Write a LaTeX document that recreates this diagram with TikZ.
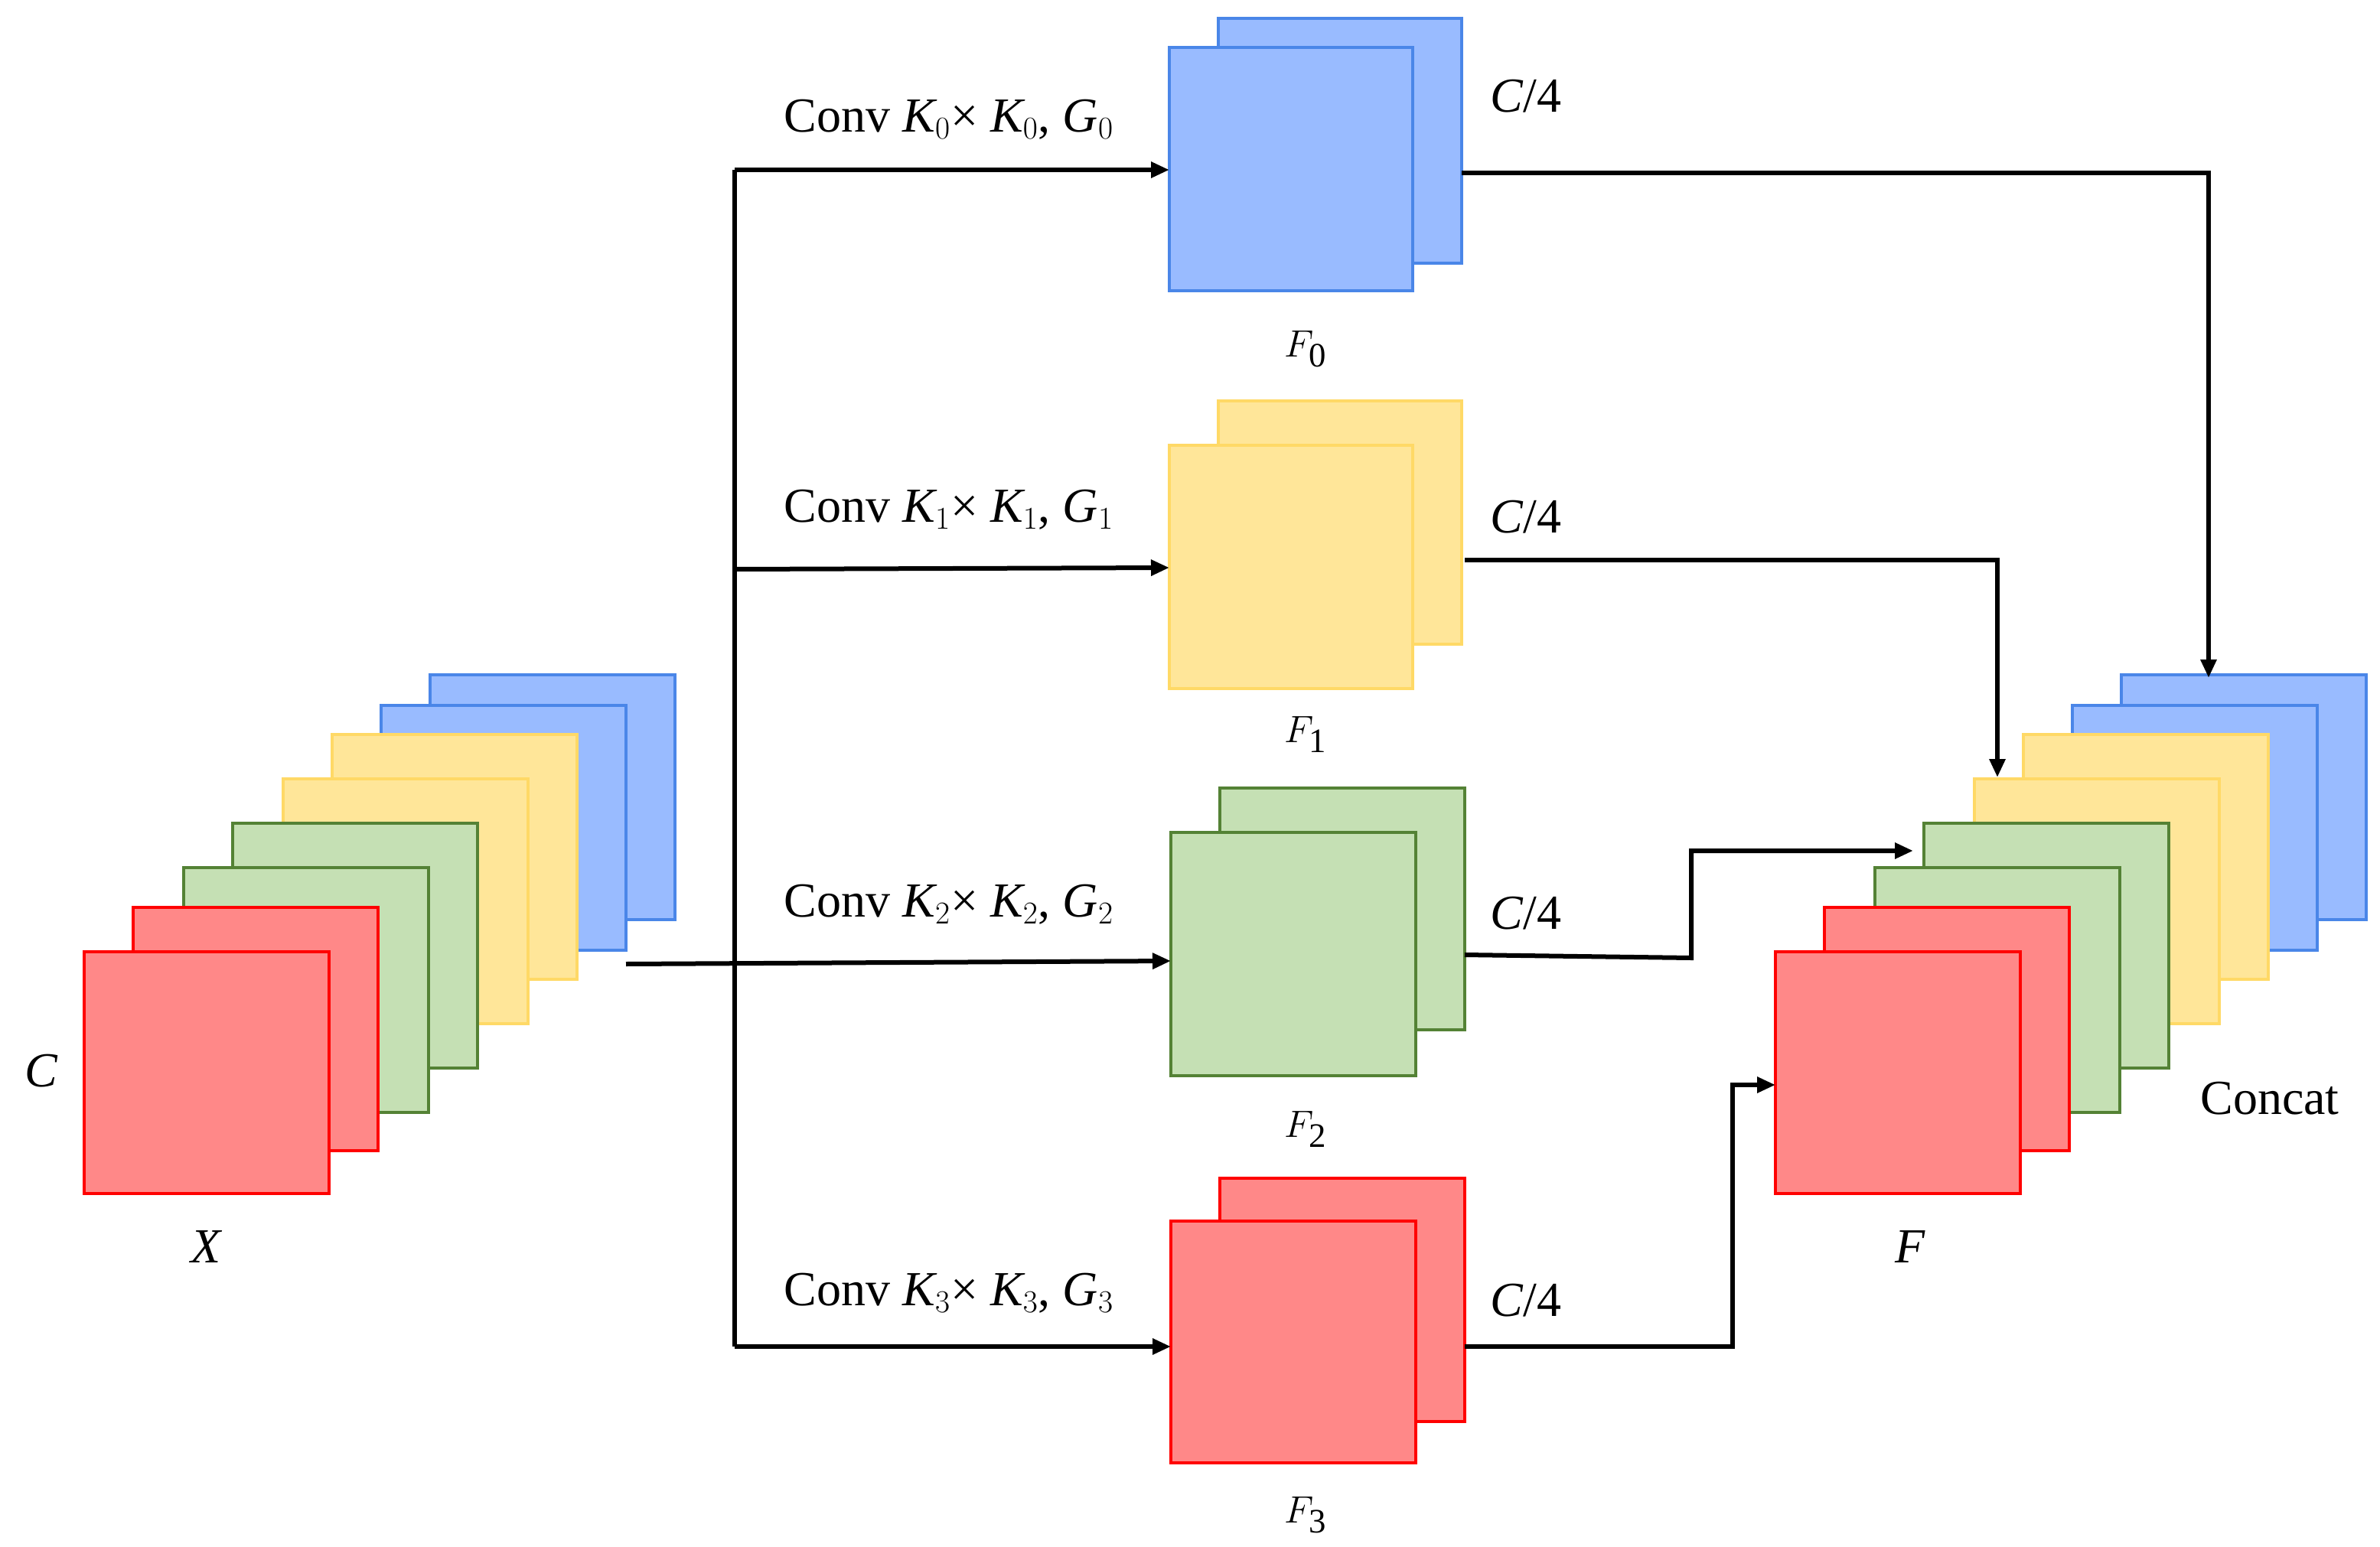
\documentclass[tikz,border=0pt]{standalone}
\usepackage{fontspec}
\setmainfont{Liberation Serif}
\usetikzlibrary{arrows.meta}
\definecolor{bF}{HTML}{99BBFF}\definecolor{bD}{HTML}{4A86E8}
\definecolor{yF}{HTML}{FFE699}\definecolor{yD}{HTML}{FFD966}
\definecolor{gF}{HTML}{C5E0B4}\definecolor{gD}{HTML}{548235}
\definecolor{rF}{HTML}{FF8888}\definecolor{rD}{HTML}{FF0000}
\begin{document}
\begin{tikzpicture}[x=1pt,y=-1pt,
 sq/.style n args={2}{fill=#1,draw=#2,line width=2pt},
 ar/.style={line width=3pt,-{Triangle[length=12pt,width=10pt]}},
 ln/.style={line width=3pt},
 lab/.style={font=\fontsize{32}{38}\selectfont,inner sep=0pt}]
\useasboundingbox (0,0) rectangle (1555,1011);
% X stack
\def\stack#1#2{%
\draw[sq={bF}{bD}] (#1+226,#2-181) rectangle ++(160,160);
\draw[sq={bF}{bD}] (#1+194,#2-161) rectangle ++(160,160);
\draw[sq={yF}{yD}] (#1+162,#2-113) rectangle ++(160,160);
\draw[sq={yF}{yD}] (#1+130,#2-142+29) ++(0,0);
\draw[sq={yF}{yD}] (#1+130,#2-142+29) rectangle ++(0,0);
}
\foreach \ox in {0,1105}{
\draw[sq={bF}{bD}] (\ox+281,441) rectangle ++(160,160);
\draw[sq={bF}{bD}] (\ox+249,461) rectangle ++(160,160);
\draw[sq={yF}{yD}] (\ox+217,480) rectangle ++(160,160);
\draw[sq={yF}{yD}] (\ox+185,509) rectangle ++(160,160);
\draw[sq={gF}{gD}] (\ox+152,538) rectangle ++(160,160);
\draw[sq={gF}{gD}] (\ox+120,567) rectangle ++(160,160);
\draw[sq={rF}{rD}] (\ox+87,593) rectangle ++(160,159);
\draw[sq={rF}{rD}] (\ox+55,622) rectangle ++(160,158);
}
\node[lab] (c) at (27,700) {\textit{C}};
\node[lab] (x) at (135,815) {\textit{X}};
\node[lab] (f) at (1248,815) {\textit{F}};
\node[lab] (cc) at (1483,718) {Concat};
% F blocks
\draw[sq={bF}{bD}] (796,12) rectangle (955,172);
\draw[sq={bF}{bD}] (764,31) rectangle (923,190);
\draw[sq={yF}{yD}] (796,262) rectangle (955,421);
\draw[sq={yF}{yD}] (764,291) rectangle (923,450);
\draw[sq={gF}{gD}] (797,515) rectangle (957,673);
\draw[sq={gF}{gD}] (765,544) rectangle (925,703);
\draw[sq={rF}{rD}] (797,770) rectangle (957,929);
\draw[sq={rF}{rD}] (765,798) rectangle (925,956);
\foreach \i/\y in {0/228,1/480,2/738,3/990}{\node[lab] (f\i) at (853,\y) {$F_{\mathrm{\i}}$};}
\foreach \i/\y in {0/63,1/338,2/597,3/850}{\node[lab] (q\i) at (997,\y) {\textit{C}/4};}
\foreach \i/\y in {0/78,1/333,2/591,3/845}{\node[lab] (k\i) at (620,\y) {Conv \textit{K$_{\i}$}× \textit{K$_{\i}$}, \textit{G$_{\i}$}};}
% connectors
\coordinate (t0) at (480,111); \coordinate (t3) at (480,880);
\draw[ln] (t0) -- (t3);
\draw[ar] (t0) -- (764,111);
\draw[ar] (480,372) -- (764,371);
\draw[ar] (409,630) -- (765,628);
\draw[ar] (t3) -- (765,880);
\draw[ar] (955,113) -- (1443,113) -- (1443,443);
\draw[ar] (957,366) -- (1305,366) -- (1305,508);
\draw[ar] (957,624) -- (1105,626) -- (1105,556) -- (1250,556);
\draw[ar] (957,880) -- (1132,880) -- (1132,709) -- (1160,709);
\end{tikzpicture}
\end{document}
